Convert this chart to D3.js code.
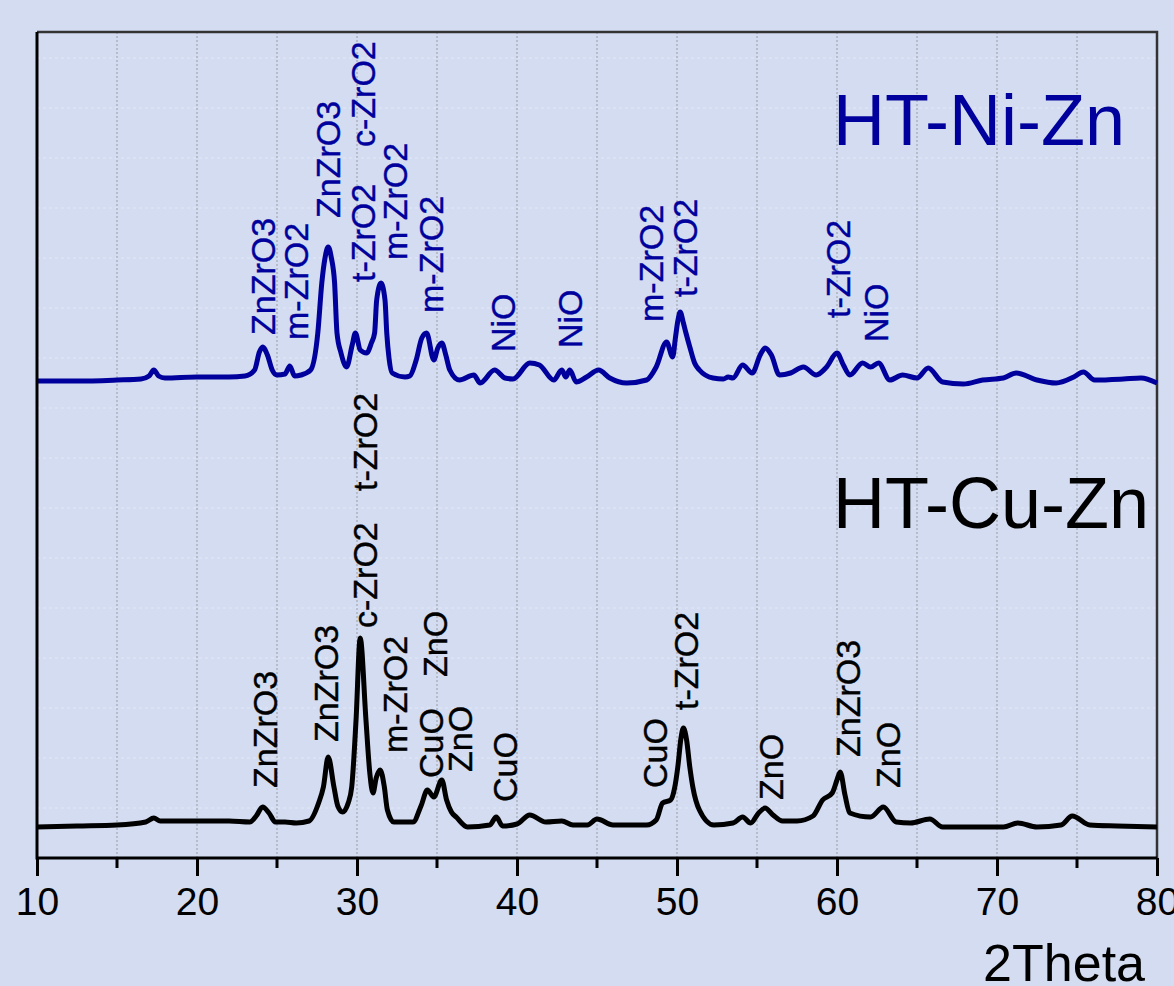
<!DOCTYPE html>
<html>
<head>
<meta charset="utf-8">
<script src="https://cdn.jsdelivr.net/npm/d3@7"></script>
<style>
  html, body { margin: 0; padding: 0; background: #d3dcf0; }
  svg { display: block; font-family: "Liberation Sans", Arial, sans-serif; }
</style>
</head>
<body>
<div id="chart"></div>
<script>
// 2Theta (deg), intensity (a.u., stacked)
var niZn = [
  [10.0,477],[12.5,477],[15.0,478],[16.5,479],[17.0,482],[17.3,488],[17.6,482],[18.0,480],
  [20.0,481],[22.0,481],[23.0,482],[23.6,488],[23.9,506],[24.1,511],[24.4,503],[24.7,488],
  [25.0,483],[25.5,484],[25.8,492],[26.1,482],[26.5,483],[27.1,488],[27.55,525],[27.8,575],
  [28.0,600],[28.2,611],[28.4,600],[28.6,575],[28.75,525],[29.0,505],[29.35,491],[29.7,513],
  [29.9,525],[30.2,508],[30.6,505],[30.9,515],[31.1,525],[31.23,558],[31.5,575],[31.75,558],
  [31.86,525],[32.0,500],[32.2,485],[33.0,481],[33.3,482],[33.7,498],[34.05,520],[34.35,525],
  [34.8,498],[35.05,510],[35.3,515],[35.55,503],[35.8,488],[36.4,478],[37.3,483],[37.7,475],
  [38.6,488],[39.25,480],[39.75,479],[40.8,495],[41.4,493],[42.3,478],[42.8,488],[43.05,481],
  [43.3,488],[43.7,476],[44.35,481],[45.1,488],[45.8,480],[46.85,475],[48.1,478],[48.7,491],
  [49.35,516],[49.73,501],[49.9,520],[50.05,537],[50.2,546],[50.4,535],[50.56,525],[50.8,511],
  [51.1,495],[51.4,488],[52.25,480],[52.9,479],[53.2,481],[53.5,480],[54.1,493],[54.7,485],
  [55.2,503],[55.5,510],[55.9,503],[56.4,483],[57.1,485],[57.9,491],[58.7,483],[59.35,491],
  [60.0,505],[60.4,493],[60.8,483],[61.6,495],[62.1,491],[62.6,495],[63.3,478],[64.1,483],
  [65.0,480],[65.7,490],[66.6,476],[67.9,474],[69.1,478],[70.4,480],[71.2,485],[72.5,478],
  [73.7,475],[74.8,481],[75.4,486],[76.1,478],[77.9,479],[79.0,480],[80.0,475]
];

var cuZn = [
  [10.0,31],[12.5,32],[15.0,33],[16.8,36],[17.3,40],[17.7,37],[20.0,37],[22.0,37],[23.3,36],
  [23.7,42],[24.1,51],[24.5,45],[24.9,36],[25.5,36],[26.2,35],[27.0,37],[27.6,55],[27.9,71],
  [28.2,101],[28.56,71],[28.8,52],[29.1,46],[29.45,55],[29.67,71],[29.94,138],[30.2,220],
  [30.56,138],[30.8,85],[31.0,65],[31.2,80],[31.45,88],[31.7,72],[31.9,48],[32.3,36],[33.5,36],
  [34.0,52],[34.4,68],[34.8,61],[35.3,78],[35.6,58],[35.9,46],[36.2,41],[36.9,31],[38.3,33],
  [38.7,41],[39.1,32],[40.0,34],[40.8,43],[41.8,36],[42.8,37],[43.5,33],[44.4,33],[45.0,39],
  [46.0,33],[48.1,33],[48.7,38],[49.1,55],[49.6,58],[49.85,70],[50.05,91],[50.25,120],
  [50.4,130],[50.6,118],[50.8,91],[51.0,70],[51.4,48],[52.3,33],[53.5,35],[54.1,41],[54.6,35],
  [55.1,45],[55.5,50],[56.0,43],[56.6,37],[57.5,37],[58.5,42],[59.1,58],[59.7,65],[60.0,78],
  [60.2,86],[60.5,63],[60.8,45],[62.1,41],[62.9,51],[63.7,36],[64.6,35],[65.8,39],[66.6,31],
  [70.4,31],[71.3,35],[72.5,31],[74.0,33],[74.7,42],[75.8,33],[77.5,32],[80.0,31]
];

// phase labels: text, 2Theta, intensity where the label starts
var niLabels = [
  ["ZnZrO3",24.88,523],["m-ZrO2",26.94,518],["ZnZrO3",28.94,640],["t-ZrO2",31.13,576],
  ["c-ZrO2",31.13,711],["m-ZrO2",33.13,598],["m-ZrO2",35.38,545],["NiO",39.88,506],
  ["NiO",44.06,510],["m-ZrO2",49.13,536],["t-ZrO2",51.25,561],["t-ZrO2",60.81,540],
  ["NiO",63.19,516]
];
var cuLabels = [
  ["ZnZrO3",25.0,70],["ZnZrO3",28.81,116],["c-ZrO2",31.25,230],["t-ZrO2",31.25,367],
  ["m-ZrO2",33.13,105],["CuO",35.38,80],["ZnO",35.63,181],["ZnO",37.19,86],["CuO",40.0,56],
  ["CuO",49.38,70],["t-ZrO2",51.31,148],["ZnO",56.63,58],["ZnZrO3",61.44,101],["ZnO",63.94,70]
];

var xMajor = [10, 20, 30, 40, 50, 60, 70, 80];
var xMinor = [15, 25, 35, 45, 55, 65, 75];
var yGrid = [50,100,150,200,250,300,350,400,450,500,550,600,650,700,750,800];

var svg = d3.select("#chart").append("svg")
    .attr("width", 1174)
    .attr("height", 986),
    margin = {top: 32, right: 17, bottom: 128, left: 37},
    width = +svg.attr("width") - margin.left - margin.right,
    height = +svg.attr("height") - margin.top - margin.bottom;

svg.append("rect").attr("width", 1174).attr("height", 986).attr("fill", "#d3dcf0");

var x = d3.scaleLinear().domain([10, 80]).range([0, width]);
var y = d3.scaleLinear().domain([0, 826]).range([height, 0]);

var g = svg.append("g")
    .attr("transform", "translate(" + margin.left + "," + margin.top + ")");

// grid
g.selectAll(".hgrid").data(yGrid).enter().append("line")
    .attr("x1", 0).attr("x2", width)
    .attr("y1", function(d) { return y(d); }).attr("y2", function(d) { return y(d); })
    .attr("stroke", "#e2e8f6").attr("stroke-width", 1.2).attr("stroke-dasharray", "3,3");

g.selectAll(".vgrid").data(xMajor.concat(xMinor).filter(function(d) { return d > 10 && d < 80; }))
  .enter().append("line")
    .attr("x1", function(d) { return x(d); }).attr("x2", function(d) { return x(d); })
    .attr("y1", 0).attr("y2", height)
    .attr("stroke", "#9a9ca6").attr("stroke-width", 1).attr("stroke-dasharray", "2,2");

// frame top/right
g.append("path")
    .attr("d", "M0,0H" + width + "V" + height)
    .attr("fill", "none").attr("stroke", "#333").attr("stroke-width", 2.5);

var line = d3.line()
    .x(function(d) { return x(d[0]); })
    .y(function(d) { return y(d[1]); })
    .curve(d3.curveMonotoneX);

g.append("path").datum(cuZn)
    .attr("d", line).attr("fill", "none")
    .attr("stroke", "#000").attr("stroke-width", 5).attr("stroke-linejoin", "round");

g.append("path").datum(niZn)
    .attr("d", line).attr("fill", "none")
    .attr("stroke", "#00009c").attr("stroke-width", 5).attr("stroke-linejoin", "round");

function addLabels(data, color) {
  g.selectAll(null).data(data).enter().append("text")
      .attr("transform", function(d) { return "translate(" + x(d[1]) + "," + y(d[2]) + ") rotate(-90)"; })
      .attr("font-size", 34)
      .attr("fill", color)
      .attr("stroke", color).attr("stroke-width", 0.4)
      .text(function(d) { return d[0]; });
}
addLabels(niLabels, "#00009c");
addLabels(cuLabels, "#000");

svg.append("text").attr("x", 833).attr("y", 145)
    .attr("font-size", 72).attr("fill", "#00009c").text("HT-Ni-Zn");
svg.append("text").attr("x", 833).attr("y", 528)
    .attr("font-size", 72).attr("fill", "#000").text("HT-Cu-Zn");

// axes
var xAxis = g.append("g")
    .attr("transform", "translate(0," + height + ")");

xAxis.selectAll(".minor").data(xMinor).enter().append("line")
    .attr("x1", function(d) { return x(d); }).attr("x2", function(d) { return x(d); })
    .attr("y1", 0).attr("y2", 10)
    .attr("stroke", "#000").attr("stroke-width", 3);

xAxis.call(d3.axisBottom(x).tickValues(xMajor).tickSize(18).tickPadding(11).tickFormat(d3.format("d")))
    .call(function(a) {
      a.select(".domain").attr("stroke", "#000").attr("stroke-width", 3).attr("d", "M0,0H" + width);
      a.selectAll(".tick line").attr("stroke", "#000").attr("stroke-width", 3);
      a.selectAll(".tick text").attr("font-size", 39).attr("fill", "#000")
        .attr("font-family", "Liberation Sans, Arial, sans-serif");
    });

g.append("line").attr("x1", 0).attr("x2", 0).attr("y1", 0).attr("y2", height + 1.5)
    .attr("stroke", "#000").attr("stroke-width", 3);

svg.append("text").attr("x", 1145).attr("y", 981)
    .attr("text-anchor", "end").attr("font-size", 52).attr("fill", "#000").text("2Theta");
</script>
</body>
</html>
